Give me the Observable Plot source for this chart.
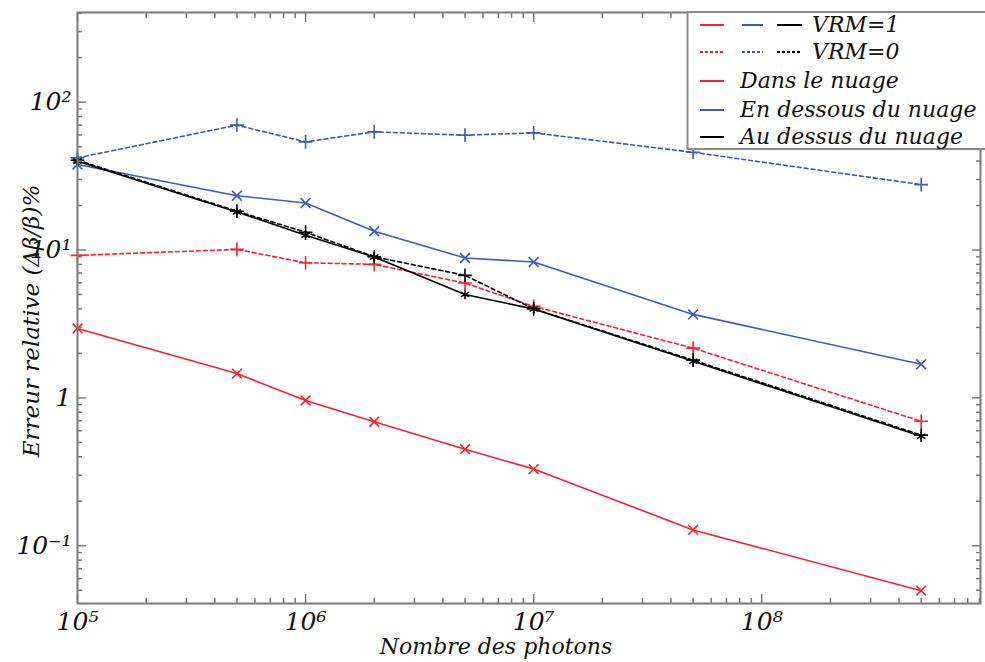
<!DOCTYPE html>
<html><head><meta charset="utf-8">
<script src="https://cdn.jsdelivr.net/npm/d3@7"></script>
<script src="https://cdn.jsdelivr.net/npm/@observablehq/plot@0.6"></script>
<style>
body{margin:0;background:#fff}
#wrap{position:relative;width:985px;height:662px;overflow:hidden}
#legend{position:absolute;left:0;top:0}
</style>
</head><body><div id="wrap"></div>
<script>
const photons = [1e5, 5e5, 1e6, 2e6, 5e6, 1e7, 5e7, 5e8];
const dansVRM1 = [2.95, 1.46, 0.96, 0.69, 0.45, 0.33, 0.128, 0.0497];
const dansVRM0 = [9.2, 10.1, 8.2, 8.0, 5.98, 4.16, 2.17, 0.695];
const dessousVRM1 = [37.9, 23.3, 20.8, 13.4, 8.83, 8.3, 3.67, 1.69];
const dessousVRM0 = [42, 69.9, 53.9, 63, 59.8, 62, 45.8, 27.7];
const dessusVRM1 = [39.9, 18.1, 12.6, 8.97, 5.0, 3.99, 1.77, 0.55];
const dessusVRM0 = [40.5, 18.3, 13.2, 9.0, 6.74, 4.0, 1.8, 0.56];

const xMajor = [1e5, 1e6, 1e7, 1e8];
const xMajorLabels = ["10⁵", "10⁶", "10⁷", "10⁸"];
const xMinor = [2e5,3e5,4e5,5e5,6e5,7e5,8e5,9e5,2e6,3e6,4e6,5e6,6e6,7e6,8e6,9e6,2e7,3e7,4e7,5e7,6e7,7e7,8e7,9e7,2e8,3e8,4e8,5e8,6e8,7e8,8e8,9e8];
const yMajor = [0.1, 1, 10, 100];
const yMajorLabels = ["10⁻¹", "1", "10¹", "10²"];
const yMinor = [0.05,0.06,0.07,0.08,0.09,0.2,0.3,0.4,0.5,0.6,0.7,0.8,0.9,2,3,4,5,6,7,8,9,20,30,40,50,60,70,80,90,200,300,400];
const xDomain = [1e5, 9.1e8];
const yDomain = [0.0407, 404];

const RED = "#ff1f2a", BLUE = "#3a5cbf", BLACK = "#000000";
const seriesDefs = [
  {name: "Dans le nuage, VRM=1", values: dansVRM1, color: RED, dash: null, symbol: "times"},
  {name: "Dans le nuage, VRM=0", values: dansVRM0, color: RED, dash: "4,3", symbol: "plus"},
  {name: "En dessous du nuage, VRM=1", values: dessousVRM1, color: BLUE, dash: null, symbol: "times"},
  {name: "En dessous du nuage, VRM=0", values: dessousVRM0, color: BLUE, dash: "4,3", symbol: "plus"},
  {name: "Au dessus du nuage, VRM=0", values: dessusVRM0, color: BLACK, dash: "4,3", symbol: "plus"},
  {name: "Au dessus du nuage, VRM=1", values: dessusVRM1, color: BLACK, dash: null, symbol: "asterisk"}
];

const serif = "'DejaVu Serif', serif";
const marks = [];
for (const s of seriesDefs) {
  const rows = photons.map((p, i) => ({x: p, y: s.values[i]}));
  marks.push(Plot.line(rows, {x: "x", y: "y", stroke: s.color, strokeWidth: 1.6, strokeDasharray: s.dash}));
  marks.push(Plot.dot(rows, {x: "x", y: "y", stroke: s.color, symbol: s.symbol, r: 4.5, strokeWidth: 1.6}));
}
const axisStyle = {stroke: "#7a7a7a", strokeWidth: 1.5, tickFormat: () => "", label: null};
marks.push(
  Plot.axisX(xMajor, {anchor: "bottom", tickSize: -9, ...axisStyle}),
  Plot.axisX(xMinor, {anchor: "bottom", tickSize: -5, ...axisStyle}),
  Plot.axisX(xMajor, {anchor: "top", tickSize: -9, ...axisStyle}),
  Plot.axisX(xMinor, {anchor: "top", tickSize: -5, ...axisStyle}),
  Plot.axisY(yMajor, {anchor: "left", tickSize: -9, ...axisStyle}),
  Plot.axisY(yMinor, {anchor: "left", tickSize: -5, ...axisStyle}),
  Plot.axisY(yMajor, {anchor: "right", tickSize: -9, ...axisStyle}),
  Plot.axisY(yMinor, {anchor: "right", tickSize: -5, ...axisStyle}),
  Plot.frame({stroke: "#7a7a7a", strokeWidth: 2}),
  Plot.text(xMajor, {x: d => d, text: (d, i) => xMajorLabels[i], frameAnchor: "bottom", dy: 26, fontSize: 25, fontStyle: "italic", fontFamily: serif, fill: "#111"}),
  Plot.text(yMajor, {y: d => d, text: (d, i) => yMajorLabels[i], frameAnchor: "left", dx: -6, textAnchor: "end", fontSize: 25, fontStyle: "italic", fontFamily: serif, fill: "#111"}),
  Plot.text(["Nombre des photons"], {text: d => d, frameAnchor: "bottom", textAnchor: "middle", dy: 50, dx: -33, fontSize: 22, fontStyle: "italic", fontFamily: serif, fill: "#111"}),
  Plot.text(["Erreur relative (Δβ/β)%"], {text: d => d, frameAnchor: "left", textAnchor: "middle", rotate: -90, dx: -46, dy: 13, fontSize: 23, fontStyle: "italic", fontFamily: serif, fill: "#111"})
);

const chart = Plot.plot({
  width: 985, height: 662,
  marginLeft: 77, marginRight: 5, marginTop: 12, marginBottom: 59,
  x: {type: "log", domain: xDomain},
  y: {type: "log", domain: yDomain},
  style: {background: "#fff", overflow: "visible"},
  marks
});
const wrap = document.getElementById("wrap");
wrap.appendChild(chart);

// legend overlay
const ns = "http://www.w3.org/2000/svg";
const lg = document.createElementNS(ns, "svg");
lg.setAttribute("id", "legend");
lg.setAttribute("width", 985); lg.setAttribute("height", 160);
const legendRows = [
  {y: 25, swatches: [[RED, null], [BLUE, null], [BLACK, null]], label: "VRM=1"},
  {y: 52, swatches: [[RED, "3,2"], [BLUE, "3,2"], [BLACK, "3,2"]], label: "VRM=0"},
  {y: 81, swatches: [[RED, null]], label: "Dans le nuage"},
  {y: 110, swatches: [[BLUE, null]], label: "En dessous du nuage"},
  {y: 137, swatches: [[BLACK, null]], label: "Au dessus du nuage"}
];
function el(tag, attrs, parent) {
  const e = document.createElementNS(ns, tag);
  for (const k in attrs) e.setAttribute(k, attrs[k]);
  parent.appendChild(e); return e;
}
el("rect", {x: 687.5, y: 12, width: 320, height: 137, fill: "#fff", stroke: "#8a8a8a", "stroke-width": 2}, lg);
const swX = [[700, 724], [742, 763], [777, 802]];
for (const r of legendRows) {
  r.swatches.forEach((s, i) => {
    const a = {x1: swX[i][0], x2: swX[i][1], y1: r.y, y2: r.y, stroke: s[0], "stroke-width": 2};
    if (s[1]) a["stroke-dasharray"] = s[1];
    el("line", a, lg);
  });
  const t = el("text", {x: r.swatches.length > 1 ? 812 : 740, y: r.y + 7, "font-family": "DejaVu Serif", "font-style": "italic", "font-size": 22, fill: "#111"}, lg);
  t.textContent = r.label;
}
wrap.appendChild(lg);
</script>
</body></html>
